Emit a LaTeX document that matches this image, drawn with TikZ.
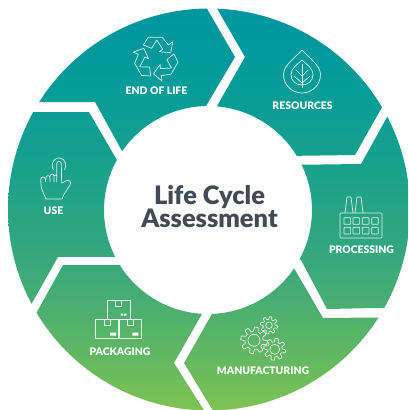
\documentclass[tikz,border=0pt]{standalone}
\usepackage{fontspec}
\setmainfont{Lato}[BoldFont=Lato Black]
\definecolor{titlegray}{HTML}{434A54}
\definecolor{g0}{HTML}{7FC353}
\definecolor{gm}{HTML}{62B862}
\definecolor{g1}{HTML}{48AE72}
\definecolor{g2}{HTML}{2FA680}
\definecolor{g3}{HTML}{14A08F}
\definecolor{g4}{HTML}{009A9C}
\definecolor{g5}{HTML}{00969F}
\pgfdeclareverticalshading{lcashade}{100bp}{color(0bp)=(g0); color(25.5bp)=(g0); color(32bp)=(gm); color(38.5bp)=(g1); color(46bp)=(g2); color(56.5bp)=(g3); color(67.5bp)=(g4); color(73bp)=(g5); color(100bp)=(g5)}
\newcommand{\gearicon}[4]{%
  \draw[iconline] plot[domain=0:360,samples=121] ({#1+#3*(0.84+0.16*max(-1,min(1,2.5*sin(#4*\x))))*cos(\x)},{#2+#3*(0.84+0.16*max(-1,min(1,2.5*sin(#4*\x))))*sin(\x)}) -- cycle;}
\tikzset{
  x=1pt,y=-1pt,
  oarc/.style={samples=50},
  iconline/.style={draw=white,line width=0.7pt,line join=round,draw opacity=0.85},
  seglabel/.style={text=white,font=\bfseries\fontsize{10.4}{11}\selectfont,inner sep=0pt,anchor=center},
  titletext/.style={text=titlegray,font=\bfseries\fontsize{25.4}{23.5}\selectfont,align=center,inner sep=0pt,anchor=center}
}
\begin{document}
\begin{tikzpicture}
\useasboundingbox (0,0) rectangle (408,410);
\fill[white] (0,0) rectangle (408,410);
\begin{scope}
\clip (0,0) rectangle (408,410);
\clip
  % end of life
  plot[oarc,domain=-90.6:-147.7] ({209+201*cos(\x)},{209.5+201*sin(\x)}) -- (95,102) -- (122,151) -- plot[oarc,domain=-145.6:-91.1] ({208+104*cos(\x)},{210+104*sin(\x)}) -- (235,57) -- cycle
  % resources
  plot[oarc,domain=-30.6:-87.7] ({209+201*cos(\x)},{209.5+201*sin(\x)}) -- (245,57) -- (217,106) -- plot[oarc,domain=-85.05:-31.4] ({208+104*cos(\x)},{210+104*sin(\x)}) -- (355,155) -- cycle
  % processing
  plot[oarc,domain=-27.5:29.3] ({209+201*cos(\x)},{209.5+201*sin(\x)}) -- (327,309) -- (301,260) -- plot[oarc,domain=28.3:-25.8] ({208+104*cos(\x)},{210+104*sin(\x)}) -- (361,164) -- cycle
  % manufacturing
  plot[oarc,domain=32.5:88.9] ({209+201*cos(\x)},{209.5+201*sin(\x)}) -- (184,363) -- plot[oarc,domain=87.8:34.1] ({208+104*cos(\x)},{210+104*sin(\x)}) -- (323,318) -- cycle
  % packaging
  plot[oarc,domain=91.4:149.1] ({209+201*cos(\x)},{209.5+201*sin(\x)}) -- (63,265) -- plot[oarc,domain=148:93.3] ({208+104*cos(\x)},{210+104*sin(\x)}) -- (174,363) -- cycle
  % use
  plot[oarc,domain=152:209] ({209+201*cos(\x)},{209.5+201*sin(\x)}) -- (89,112) -- plot[oarc,domain=208.8:153.2] ({208+104*cos(\x)},{210+104*sin(\x)}) -- (58,257) -- cycle;
\shade[shading=lcashade] (0,-5) rectangle (410,415);
\end{scope}

% recycling icon
\foreach \r in {0,120,240}{
  \draw[iconline,rotate around={\r:(156,58.3)}] (143.3,45) -- (148.3,37.3) -- (162.3,37.3) -- (168.3,45) -- (172.7,41.7) -- (170.7,52.7) -- (159.3,51.7) -- (162.7,49.3) -- (156.7,40) -- (151.7,48.3) -- cycle;
}
% leaf icon
\draw[iconline] (302,50) .. controls (296,57) and (283.5,65) .. (283.5,74.5) .. controls (283.5,85) and (292,93) .. (302,93) .. controls (312,93) and (320.5,85) .. (320.5,74.5) .. controls (320.5,65) and (308,57) .. (302,50) -- cycle;
\draw[iconline] (302,60) .. controls (298,64) and (291,68) .. (291,74.5) .. controls (291,81) and (296,85) .. (302,85) .. controls (308,85) and (313,81) .. (313,74.5) .. controls (313,68) and (306,64) .. (302,60) -- cycle;
\draw[iconline] (302,64) -- (302,88);
\draw[iconline] (296,70) -- (302,76) -- (308,70);
\draw[iconline] (294,76) -- (302,83) -- (310,76);
% hand icon
\begin{scope}[shift={(30,148)},x=0.3333pt,y=-0.37pt]
\draw[iconline] (48,138) .. controls (42,125) and (34,112) .. (33,100) -- (32,85) .. controls (33,76) and (45,76) .. (46,85) -- (47,92)
  (47,85) .. controls (47,72) and (59,72) .. (60,80) -- (60,92)
  (60,78) .. controls (60,68) and (72,68) .. (72,76) -- (72,92)
  (72,76) .. controls (73,72) and (78,72) .. (80,75)
  (80,92) -- (80,43) .. controls (80,34) and (94,34) .. (94,43) -- (95,95) -- (110,88) .. controls (118,85) and (125,92) .. (120,100) -- (102,125) -- (96,138) -- (48,138);
\draw[iconline] plot[domain=145:395,samples=40] ({87+20*cos(-\x)},{47-20*sin(-\x)});
\end{scope}
% factory icon
\draw[iconline,rounded corners=1pt] (340,238) rectangle (382,213);
\draw[iconline] (345,213) -- (347,197) -- (351,197) -- (353,213) (355,213) -- (357,197) -- (361,197) -- (363,213);
\foreach \wx in {344,353,362.3,371.7}{
  \foreach \wy in {217.7,227.3}{
    \draw[iconline,rounded corners=0.5pt] (\wx,\wy) rectangle ++(6.6,6.6);
  }
}
% gear icon
\gearicon{254}{340.3}{13.3}{8}
\draw[iconline] (254,340.3) circle[radius=6pt];
\gearicon{269}{325.3}{8.7}{8}
\draw[iconline] (269,325.3) circle[radius=3.3pt];
\gearicon{274.7}{349.3}{11}{8}
\draw[iconline] (274.7,349.3) circle[radius=5pt];
% boxes icon
\draw[iconline] (107.3,300) rectangle (130,319);
\draw[iconline] (115.7,300) rectangle (121.7,306);
\draw[iconline] (95.3,319) rectangle (118.3,338.3);
\draw[iconline] (104,319) rectangle (110,325);
\draw[iconline] (119,319) rectangle (141.7,338.3);
\draw[iconline] (127.7,319) rectangle (133.7,325);
\fill[white] (120.7,313.7) rectangle (123.3,315.7) (124,313.7) rectangle (126.7,315.7);
\fill[white] (110,332.7) rectangle (116,335.7) (132.3,332.7) rectangle (138.3,335.7);

% labels
\node[seglabel] (eol) at (156.5,91) {END OF LIFE};
\node[seglabel] (res) at (302.5,106) {RESOURCES};
\node[seglabel] (pro) at (361.5,250) {PROCESSING};
\node[seglabel] (man) at (263,371) {MANUFACTURING};
\node[seglabel] (pac) at (120,352) {PACKAGING};
\node[seglabel] (use) at (53.5,211) {USE};
\node[titletext] (ttl) at (209.5,206.5) {Life Cycle\\[0pt]Assessment};
\end{tikzpicture}
\end{document}
